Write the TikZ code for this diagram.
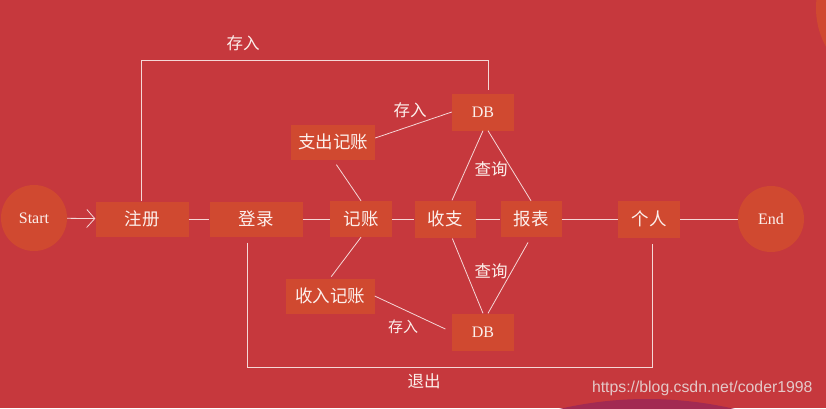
\documentclass[tikz,border=0pt]{standalone}
\usepackage{fontspec}
\setmainfont{Liberation Serif}
\newfontfamily\cjk{Noto Sans CJK SC}
\newfontfamily\wmfont{Liberation Sans}
\usetikzlibrary{
    arrows.meta
}
\definecolor{bgRed}{RGB}{198,56,61}
\definecolor{boxRed}{RGB}{208,73,48}
\definecolor{lineW}{RGB}{245,215,215}
\definecolor{txtW}{RGB}{252,240,236}
\definecolor{deepPurple}{RGB}{162,42,82}
\definecolor{markGray}{RGB}{228,200,200}
\tikzset{
  block/.style  = {fill=boxRed, text=txtW, inner sep=0pt, minimum height=35pt,
                   font=\cjk\fontsize{17.5}{17.5}\selectfont},
  dbblock/.style = {fill=boxRed, text=txtW, inner sep=0pt, minimum width=62pt,
                   minimum height=37pt, font=\fontsize{16}{16}\selectfont},
  endpt/.style  = {circle, fill=boxRed, text=txtW, minimum size=66pt,
                   inner sep=0pt, font=\fontsize{16}{16}\selectfont},
  link/.style   = {lineW, line width=0.8pt},
  lbl/.style    = {text=txtW, font=\cjk\fontsize{16.5}{16.5}\selectfont}
}

\begin{document}
\begin{tikzpicture}[x=1pt, y=-1pt]
\fill[bgRed] (0,0) rectangle (826,408);
\useasboundingbox (0,0) rectangle (826,408);
\begin{scope}
\clip (0,0) rectangle (826,408);
\fill[boxRed] (896,8) circle (80pt);
\fill[deepPurple] (647,786) circle (387pt);
\end{scope}
% main row
\node[endpt] (start) at (34,218) {Start};
\node[block, minimum width=93pt] (zhuce) at (142,219) {注册};
\node[block, minimum width=93pt] (denglu) at (256,219) {登录};
\node[block, minimum width=62pt, minimum height=36pt] (jizhang) at (361,219) {记账};
\node[block, minimum width=61pt, minimum height=37pt] (shouzhi) at (445,219) {收支};
\node[block, minimum width=61pt, minimum height=36pt] (baobiao) at (531,219) {报表};
\node[block, minimum width=62pt, minimum height=37pt] (geren) at (649,219) {个人};
\node[endpt] (end) at (771,219) {End};
% side nodes
\node[dbblock] (dbup) at (483,112) {DB};
\node[dbblock] (dbdown) at (483,332) {DB};
\node[block, minimum width=84pt] (zhichu) at (333,142) {支出记账};
\node[block, minimum width=89pt] (shouru) at (330,296) {收入记账};
\coordinate (topy) at (0,60);
\coordinate (boty) at (0,367);
% connectors
\draw[link, -{Straight Barb[length=8pt,width=18pt]}] (start) -- (zhuce);
\draw[link] (zhuce) -- (denglu);
\draw[link] (denglu) -- (jizhang);
\draw[link] (jizhang) -- (shouzhi);
\draw[link] (shouzhi) -- (baobiao);
\draw[link] (baobiao) -- (geren);
\draw[link] (geren) -- (end);
\draw[link, shorten >=3pt] ([xshift=-1pt]zhuce.north) -- ([xshift=-1pt]zhuce.north |- topy)
  -| ([xshift=5pt]dbup.north);
\draw[link, shorten >=6pt] ([xshift=-9pt,yshift=-6pt]denglu.south)
  -- ([xshift=-9pt]denglu.south |- boty) -| ([xshift=3pt]geren.south);
\draw[link] ([yshift=4pt]zhichu.east) -- (dbup.west);
\draw[link, shorten <=6pt] (zhichu.south) -- (jizhang.north);
\draw[link, shorten >=2pt] (jizhang.south) -- (shouru.north);
\draw[link, shorten >=7pt] (shouru.east) -- (dbdown.west);
\draw[link] (dbup.south) -- ([xshift=7pt]shouzhi.north);
\draw[link] ([xshift=5pt]dbup.south) -- (baobiao.north);
\draw[link, shorten <=1pt] ([xshift=7pt]shouzhi.south) -- (dbdown.north);
\draw[link, shorten <=6pt] (baobiao.south) -- ([xshift=5pt]dbdown.north);
% labels
\node[lbl] (cunru1) at (243,43) {存入};
\node[lbl] (cunru2) at (410,110) {存入};
\node[lbl] (chaxun1) at (491,169) {查询};
\node[lbl] (chaxun2) at (491,271) {查询};
\node[lbl, font=\cjk\fontsize{15}{15}\selectfont] (cunru3) at (403,327) {存入};
\node[lbl] (tuichu) at (424,381) {退出};
\node[text=markGray, font=\wmfont\fontsize{15.8}{16}\selectfont, anchor=east] (mark) at (816,388) {https://blog.csdn.net/coder1998};
\end{tikzpicture}
\end{document}
